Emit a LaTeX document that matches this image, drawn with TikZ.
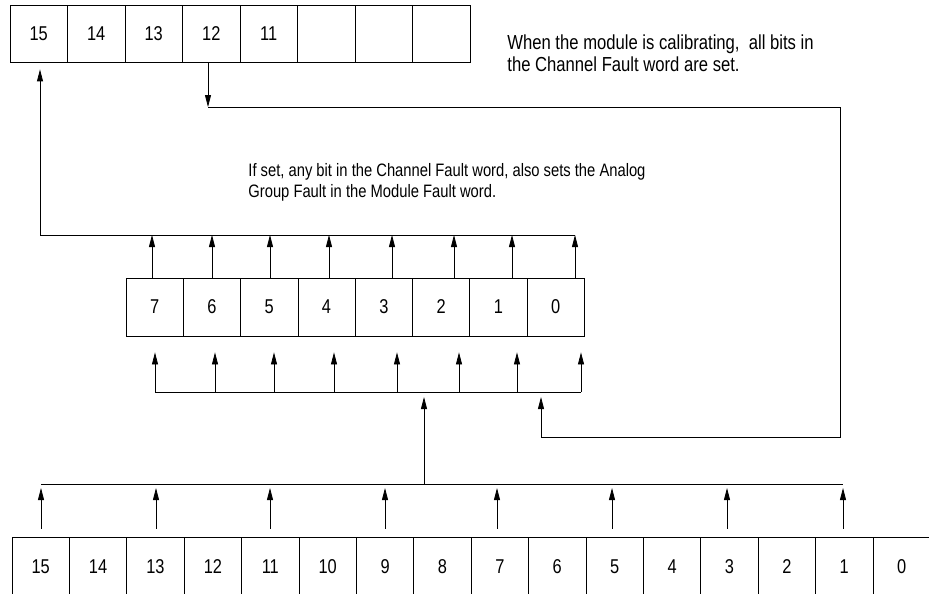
\documentclass[tikz,border=0pt]{standalone}
\usepackage{fontspec}
\setmainfont{Liberation Sans}[FakeStretch=0.82]
\usetikzlibrary{arrows.meta}

\begin{document}
\begin{tikzpicture}[x=1pt, y=-1pt,
  >={Triangle[length=12pt, width=6pt]}, line width=0.8pt,
  bit/.style={draw, inner sep=0pt, font=\fontsize{20}{22}\selectfont},
  note/.style={anchor=north west, inner sep=0pt, align=left,
               font=\fontsize{18}{21}\selectfont}]
  \useasboundingbox (0,0) rectangle (929,594);

  % channel fault word (upper bits)
  \foreach \bit in {15,...,8}
    \node[bit, minimum width=57.5pt, minimum height=57pt] (t\bit)
      at ({10+57.5*(15.5-\bit)},33.5) {\ifnum\bit>10 \bit\fi};

  % module fault byte
  \foreach \bit in {7,...,0}
    \node[bit, minimum width=57.3pt, minimum height=58pt] (m\bit)
      at ({126+57.3*(7.5-\bit)},307) {\bit};

  % channel status word
  \foreach \bit in {15,...,0}
    \node[bit, minimum width=57.4pt, minimum height=60pt] (b\bit)
      at ({12+57.4*(15.5-\bit)},567) {\bit};

  % bits of the byte up to the top bus
  \foreach \bit/\x in {7/152,6/212,5/270,4/329,3/392,2/454,1/512,0/575} {
    \coordinate (u\bit) at (\x,235);
    \draw[->] (m\bit.north -| u\bit) -- (u\bit);
  }
  \coordinate (ul) at (40,235);
  \draw[->, shorten >=7pt] (u0) -- (ul) -- (t15.south -| ul);

  % lower bus up into the byte
  \foreach \bit/\x in {7/155,6/215,5/274,4/334,3/397,2/459,1/517,0/581} {
    \coordinate (l\bit) at (\x,392);
    \draw[->, shorten >=16pt] (l\bit) -- (m\bit.south -| l\bit);
  }
  \draw (l7) -- (l0);

  % odd channel bits to the bottom bus
  \foreach \bit/\x in {15/41,13/156,11/270,9/385,7/497,5/612,3/727,1/843} {
    \coordinate (d\bit) at (\x,484);
    \draw[->, shorten <=8pt, shorten >=4pt] (b\bit.north -| d\bit) -- (d\bit);
  }
  \draw (d15) -- (d1);
  \coordinate (fb) at (424,484);
  \draw[->, shorten >=5pt] (fb) -- (fb |- l0);

  % calibration loop
  \coordinate (c12) at (208,107);
  \coordinate (cr) at (840,437);
  \coordinate (cb) at (541,437);
  \draw[->] (t12.south -| c12) -- (c12);
  \draw[->, shorten >=5pt] (c12) -| (cr) -- (cb) -- (cb |- l0);

  \node[note, font=\fontsize{20.3}{22}\selectfont] (calnote) at (507,34)
    {When the module is calibrating,~~all bits in\\the Channel Fault word are set.};
  \node[note] (grpnote) at (248,163)
    {If set, any bit in the Channel Fault word, also sets the Analog\\Group Fault in the Module Fault word.};
\end{tikzpicture}
\end{document}
